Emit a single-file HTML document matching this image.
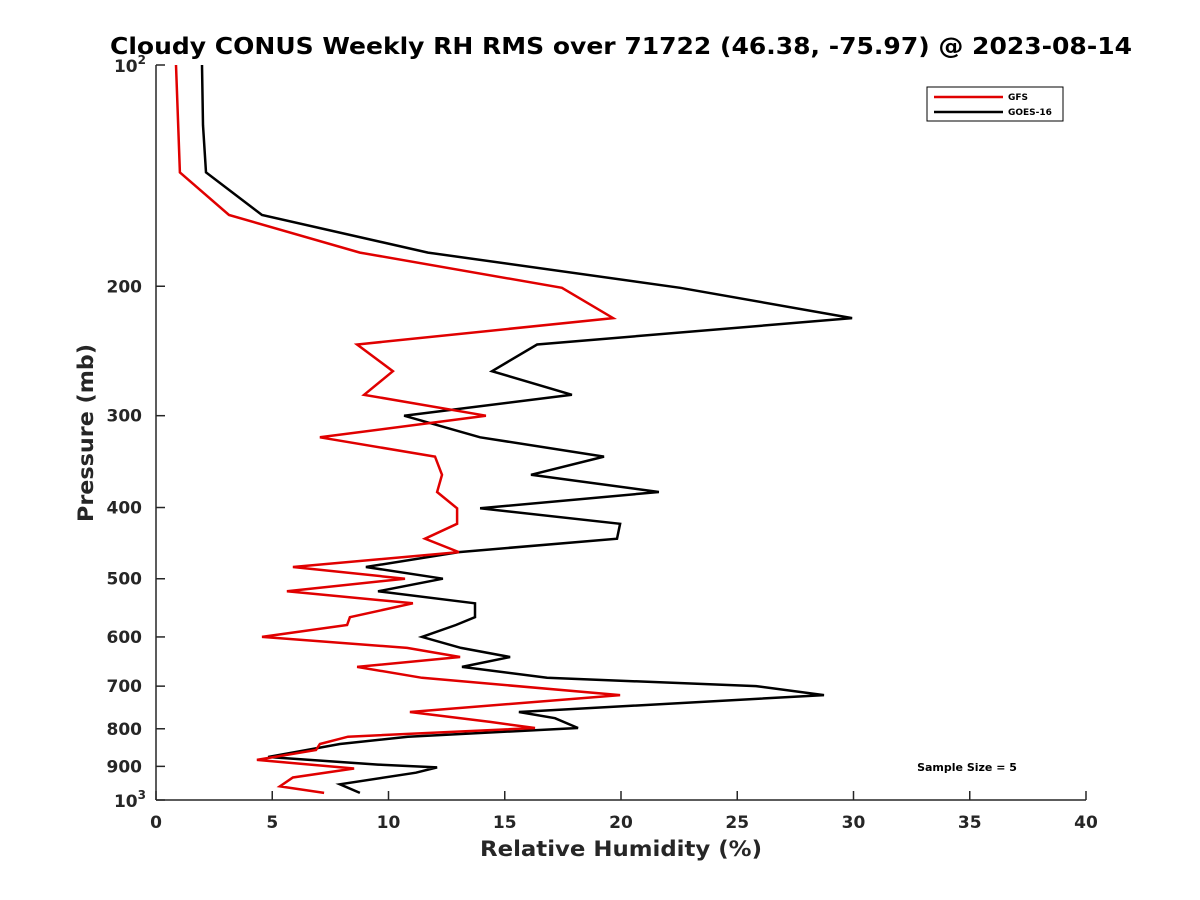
<!DOCTYPE html>
<html><head><meta charset="utf-8">
<style>
body{margin:0;background:#fff;}
svg{display:block;font-family:"DejaVu Sans","Liberation Sans",sans-serif;}
</style></head>
<body>
<svg id="chart" width="1200" height="900">
<rect width="1200" height="900" fill="#fff"/>
<text x="621" y="54" text-anchor="middle" font-size="23" font-weight="bold" textLength="1022" lengthAdjust="spacingAndGlyphs">Cloudy CONUS Weekly RH RMS over 71722 (46.38, -75.97) @ 2023-08-14</text>
<g id="axes"></g>
<g id="series"></g>
<text x="621" y="856" text-anchor="middle" font-size="21" font-weight="bold" fill="#262626" textLength="282" lengthAdjust="spacingAndGlyphs">Relative Humidity (%)</text>
<text transform="translate(93,433) rotate(-90)" text-anchor="middle" font-size="21" font-weight="bold" fill="#262626" textLength="178" lengthAdjust="spacingAndGlyphs">Pressure (mb)</text>
<g>
<rect x="927" y="87" width="136" height="34" fill="#fff" stroke="#000" stroke-width="1"/>
<line x1="934" y1="97" x2="1003" y2="97" stroke="#e00000" stroke-width="2.5"/>
<text x="1008" y="100" font-size="9" font-weight="bold">GFS</text>
<line x1="934" y1="112" x2="1003" y2="112" stroke="#000" stroke-width="2.5"/>
<text x="1008" y="115" font-size="9" font-weight="bold">GOES-16</text>
</g>
<text x="967" y="771" text-anchor="middle" font-size="11" font-weight="bold">Sample Size = 5</text>
</svg>
<script>
const gfsPressure=[100,140,160,180,201,221,240,261,281,300,321,341,361,381,401,421,441,460,482,500,520,540,564,578,600,621,639,659,682,720,759,783,798,820,839,855,882,906,932,958,978];
const gfsValues=[0.86,1.03,3.14,8.77,17.46,19.66,8.65,10.19,8.95,14.19,7.05,12.0,12.3,12.09,12.95,12.95,11.57,13.03,5.89,10.71,5.63,11.05,8.34,8.22,4.56,10.8,13.08,8.65,11.44,19.96,10.92,14.37,16.3,8.26,7.05,6.88,4.34,8.52,5.89,5.33,7.23];
const goesPressure=[100,120.7,140,160,180,201,221,240,261,281,300,321,341,361,381,401,421,441,460,482,500,520,540,564,578,600,621,639,659,682,700,720,759,774,798,820,839,874,895,903,918,952,978];
const goesValues=[1.98,2.02,2.15,4.56,11.7,22.54,29.94,16.39,14.45,17.89,10.67,13.94,19.27,16.13,21.63,13.94,19.96,19.83,13.03,9.03,12.34,9.55,13.72,13.72,12.9,11.44,13.12,15.23,13.16,16.82,25.81,28.73,15.61,17.16,18.15,10.84,7.91,4.82,9.55,12.09,11.18,7.91,8.77];
const xTicks=[0,5,10,15,20,25,30,35,40];
const yTicks=[200,300,400,500,600,700,800,900];
const X0=156,X1=1086,Y0=65,Y1=800;
const xs=v=>X0+(v/40)*(X1-X0);
const ys=p=>Y0+(Math.log10(p)-2)*(Y1-Y0);
const NS="http://www.w3.org/2000/svg";
const ax=document.getElementById('axes');
function mk(tag,attrs,parent){const e=document.createElementNS(NS,tag);for(const k in attrs)e.setAttribute(k,attrs[k]);parent.appendChild(e);return e;}
let l=mk('line',{x1:X0,y1:Y0,x2:X0,y2:Y1,stroke:'#262626','stroke-width':1.5},ax);


l=mk('line',{x1:X0,y1:Y1,x2:X1,y2:Y1,stroke:'#262626','stroke-width':1.5},ax);


xTicks.forEach(v=>{
 const x=xs(v);
 mk('line',{x1:x,y1:Y1,x2:x,y2:Y1-9,stroke:'#262626','stroke-width':1.5},ax);
 const t=mk('text',{x:x,y:Y1+28,'text-anchor':'middle','font-size':17,'font-weight':'bold',fill:'#262626'},ax);
 t.textContent=v;
 
 
});
yTicks.forEach(p=>{
 const y=ys(p);
 mk('line',{x1:X0,y1:y,x2:X0+9,y2:y,stroke:'#262626','stroke-width':1.5},ax);
 const t=mk('text',{x:X0-14,y:y+6,'text-anchor':'end','font-size':17,'font-weight':'bold',fill:'#262626'},ax);
 t.textContent=p;
 
 
});
[[100,'2'],[1000,'3']].forEach(([p,e])=>{
 const y=ys(p);
 mk('line',{x1:X0,y1:y,x2:X0+9,y2:y,stroke:'#262626','stroke-width':1.5},ax);
 const t=mk('text',{x:X0-10,y:y+7,'text-anchor':'end','font-size':17,'font-weight':'bold',fill:'#262626'},ax);
 t.innerHTML='10<tspan dy="-8" font-size="12">'+e+'</tspan>';
 
 
});
const sg=document.getElementById('series');
function drawLine(vals,pres,color,name){
 const pts=vals.map((v,i)=>xs(v).toFixed(1)+','+ys(pres[i]).toFixed(1)).join(' ');
 const pl=mk('polyline',{points:pts,fill:'none',stroke:color,'stroke-width':2.5,'stroke-linejoin':'miter'},sg);
 
 
}
drawLine(goesValues,goesPressure,'#000','goes16-line');
drawLine(gfsValues,gfsPressure,'#e00000','gfs-line');
</script>
</body></html>
